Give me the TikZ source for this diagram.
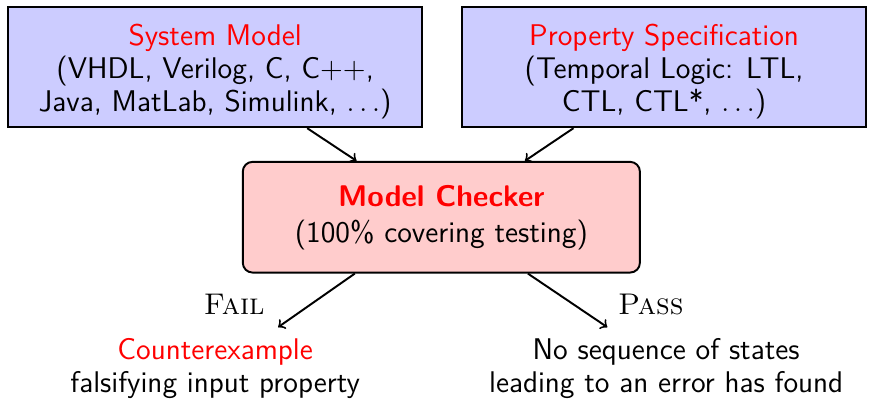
\documentclass[tikz,border=0pt]{standalone}
\usepackage{tikz}
\definecolor{boxBlue}{RGB}{204, 204, 255}
\definecolor{boxRed}{RGB}{255, 204, 204}
\definecolor{titleRed}{RGB}{255, 0, 0}

\begin{document}
\begin{tikzpicture}[font=\fontsize{12.3}{13.6}\selectfont\sffamily,
    inbox/.style={draw, thick, fill=boxBlue, align=center, minimum height=1.73cm},
    tool/.style={draw, thick, fill=boxRed, rounded corners, align=center, minimum width=5.74cm, minimum height=1.6cm},
    result/.style={align=center},
    verdict/.style={font=\fontsize{12.3}{13.6}\selectfont\rmfamily\scshape}]
        \useasboundingbox (0,0) rectangle (12.62,-5.78);
        \node[inbox, minimum width=5.98cm] (sysmodel) at (3.11,-0.97)
            {\rule{0pt}{12.5pt}\textcolor{titleRed}{System Model}\\(VHDL, Verilog, C, C++,\\Java, MatLab, Simulink, $\dots$)};
        \node[inbox, minimum width=5.84cm] (propspec) at (9.60,-0.97)
            {\rule{0pt}{12.5pt}\textcolor{titleRed}{Property Specification}\\(Temporal Logic: LTL,\\CTL, CTL*, $\dots$)};
        \node[tool] (checker) at (6.38,-3.14)
            {\textcolor{titleRed}{\bfseries Model Checker}\\[1.2pt](100\% covering testing)};
        \node[result] (cex) at (3.11,-5.33)
            {\textcolor{titleRed}{Counterexample}\\falsifying input property};
        \node[result] (nocex) at (9.63,-5.33)
            {No sequence of states\\leading to an error has found};
        % inputs
        \draw[thick, ->] (sysmodel) -- (checker);
        \draw[thick, ->] (propspec) -- (checker);
        % verdicts
        \draw[thick, ->] ([xshift=-1.25cm]checker.south) -- ([xshift=0.91cm, yshift=0.04cm]cex.north)
            node[verdict, midway, left=0.62cm, yshift=-0.06cm] {Fail};
        \draw[thick, ->] ([xshift=1.25cm]checker.south) -- ([xshift=-0.85cm, yshift=0.04cm]nocex.north)
            node[verdict, midway, right=0.6cm, yshift=-0.06cm] {Pass};
\end{tikzpicture}
\end{document}
